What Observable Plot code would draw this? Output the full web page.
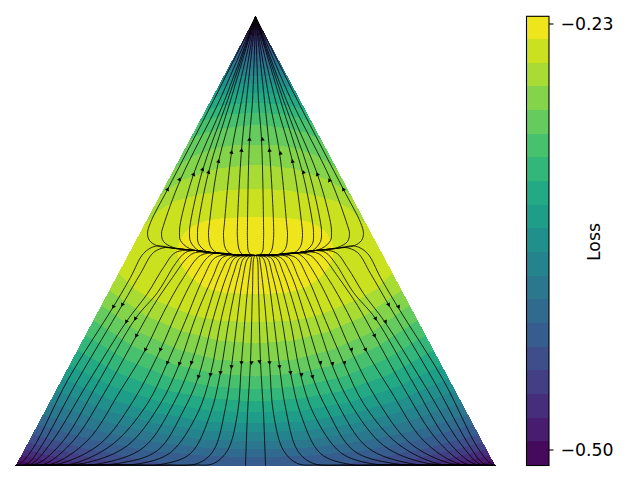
<!DOCTYPE html>
<html>
<head>
<meta charset="utf-8">
<script src="https://cdn.jsdelivr.net/npm/d3@7"></script>
<script src="https://cdn.jsdelivr.net/npm/@observablehq/plot@0.6"></script>
<style>html,body{margin:0;padding:0;background:#fff}svg{display:block}</style>
</head>
<body>
<div id="chart"></div>
<script>
// Loss bands: band k spans lossEdges[k] .. lossEdges[k+1]
const lossStart = -0.51, lossStep = 0.015, bandCount = 19;
const lossDomain = [-0.51, -0.225];
const colorbarRows = [465.5,441,417.7,393.7,370,347,323,299,275.7,251.7,228,205,181,157,134,110,86,62.7,39,16.3];
const colorbarTicks = [{row:23.5,label:"\u22120.23"},{row:449.5,label:"\u22120.50"}];

// Level curves of the loss, left half, from the centre line out to the simplex edge: [offset,row]
const upperContours = {
  1:[[0,24],[-4.5,24.5]], 2:[[0,29],[-7,30]], 3:[[0,34],[-10,35]], 4:[[0,40],[-13,41]],
  5:[[0,46],[-17,47]], 6:[[0,53],[-21,55]], 7:[[0,60],[-25,62]], 8:[[0,67],[-29,70]],
  9:[[0,75],[-17,76],[-26,77],[-34,79]],
  10:[[0,83],[-19,84],[-29,85.5],[-38.5,88]],
  11:[[0,92],[-22,93.5],[-33,95],[-44,98]],
  12:[[0,102],[-25,104],[-38,106],[-50,110]],
  13:[[0,112],[-28,114],[-43,117],[-57,122]],
  14:[[0,124],[-33,128],[-50,132],[-66,139]],
  15:[[0,144],[-20,144.5],[-40,147.5],[-61,155],[-73,162],[-81,168]],
  16:[[0,164],[-38,168],[-72,179],[-88,189],[-96,196]],
  17:[[0,188],[-28,189.5],[-56,194],[-82,201],[-98,211],[-113,227]]
};
const lowerContours = {
  1:[[0,510],[-150,490],[-215,465],[-225,463],[-237,460]],
  2:[[0,500],[-120,488],[-190,465],[-205,461],[-220,458],[-235,455]],
  3:[[0,495],[-100,485],[-160,465],[-185,460],[-210,454],[-231,449]],
  4:[[0,485],[-70,478],[-125,465],[-160,458],[-195,450],[-228,442]],
  5:[[0,473],[-40,470],[-80,465],[-120,458],[-170,448],[-223,434]],
  6:[[0,457],[-54,455],[-109,450],[-164,439],[-218,424]],
  7:[[0,449],[-53,447],[-106,441],[-160,430],[-213,414]],
  8:[[0,441],[-52,439],[-103,432],[-155,420],[-206,402]],
  9:[[0,432],[-50,430],[-100,423],[-150,410],[-200,390]],
  10:[[0,423],[-48,421],[-97,413],[-145,399],[-193,378]],
  11:[[0,412],[-47,410],[-93,402],[-140,387],[-186,365]],
  12:[[0,401],[-45,398],[-89,390],[-134,374],[-178,350]],
  13:[[0,389],[-43,386],[-85,377],[-128,360],[-170,335]],
  14:[[0,376],[-41,373],[-81,364],[-122,346],[-162,320]],
  15:[[0,362],[-39,359],[-77,349],[-116,332],[-154,305]],
  16:[[0,343],[-37,340],[-73,331],[-110,315],[-146,290]],
  17:[[0,322],[-38,320],[-62,315],[-105,298],[-122,288],[-137,272]]
};
const peakContour = [[0,217],[-20,217],[-48,220],[-65,227],[-75,238],[-78,250],[-77,258],[-68,273],[-52,286],[-32,292],[0,293]];

// Flow lines, left half
const sharedArc = [[-100,245.7],[-80,248],[-60,250],[-40,252.5],[-20,254.3],[0,255]];
const upperFlow = [
  [[-42,100],[-88,189],[-105,222],[-108,233],[-106,240],[-99,245]],
  [[-36,100],[-75,179],[-92,225],[-94,233],[-92,241],[-82,247]],
  [[-31,100],[-62,174],[-75,222],[-76,232],[-75,240],[-66,248]],
  [[-28,100],[-53,170],[-65,222],[-66,232],[-65,241],[-57,250]],
  [[-25,100],[-47,172],[-57,222],[-58,232],[-57,243],[-49,251]],
  [[-20,100],[-37,161],[-46,222],[-47,235],[-45,246],[-39,252]],
  [[-14,100],[-24,152],[-31,222],[-32,235],[-30,248],[-24,253.5]],
  [[-9,100],[-14,150],[-18,222],[-18,238],[-16,250],[-12,254.5]],
  [[-3,100],[-6,139],[-8,222],[-8,240],[-7,251],[-4,254.8]]
];
const lowerFlow = [
  [[-235,463],[-222,447],[-188,380],[-142,306],[-125,277],[-112,253],[-100,245.7]],
  [[-228,463],[-215,447],[-178,380],[-133,304],[-115,273],[-102,252],[-90,247]],
  [[-225,464],[-205,443],[-168,383],[-129,321],[-108,293],[-92,267],[-80,252]],
  [[-218,463],[-192,440],[-158,383],[-120,318],[-98,292],[-80,263],[-70,252]],
  [[-212,464],[-182,440],[-148,387],[-119,335],[-102,305],[-83,277],[-68,257],[-60,252]],
  [[-205,464],[-168,440],[-135,390],[-110,349],[-92,312],[-72,277],[-55,255]],
  [[-222,464.6],[-195,463],[-155,443],[-122,400],[-95,349],[-78,310],[-62,278],[-48,257]],
  [[-215,464.6],[-182,463],[-142,443],[-108,403],[-88,362],[-70,320],[-52,277],[-40,257]],
  [[-205,464.5],[-168,462],[-128,445],[-95,403],[-76,363],[-60,317],[-43,277],[-33,257]],
  [[-200,464.6],[-155,463],[-112,447],[-82,403],[-64,362],[-50,317],[-35,273],[-25,257]],
  [[-190,464.6],[-138,463],[-98,450],[-72,410],[-57,376],[-42,317],[-28,273],[-20,257]],
  [[-170,464.6],[-140,464.3],[-115,463],[-85,452],[-58,413],[-45,374],[-34,317],[-22,273],[-15,257]],
  [[-160,464.6],[-120,464.5],[-95,464],[-65,453],[-45,413],[-35,372],[-26,317],[-17,275],[-11,257]],
  [[-150,464.6],[-90,464.5],[-58,463],[-42,450],[-30,407],[-24,366],[-18,317],[-13,280],[-7,257]],
  [[-150,464.6],[-65,464.5],[-42,463],[-28,450],[-18,413],[-14,362],[-8,290],[-4,257]]
];
const centreFlow = [[-10,465],[-8,413],[-5,361],[-3,290],[-1.5,257],[0,255]];

// Arrow heads
const upperArrows = [[-88,189],[-76,179],[-62,174],[-53,169],[-47,172],[-37,161],[-24,152],[-14,150],[-6,139],[88,189],[74,180],[62,174],[48,172],[37,161],[25,153],[14,150],[7,139]];
const lowerArrows = [[-142,306],[-133,304],[-129,321],[-120,318],[-119,335],[-110,349],[-95,349],[-88,362],[-76,363],[-64,362],[-57,376],[-45,374],[-35,372],[-24,366],[-14,362],[-4,362],[4,361],[14,362],[24,366],[35,372],[46,374],[57,376],[65,362],[77,363],[89,362],[96,349],[110,349],[119,335],[120,318],[130,321],[133,304],[143,306]];

const apexRow = 16, baseRow = 465;
const bandLoss = k => lossStart + lossStep * (k + 0.5);
const mirror = pts => pts.map(([x, y]) => [-x, y]);
const extend = h => { const e = h[h.length - 1]; return [...h, [e[0] - 10, e[1]]]; };

function bandPolygon(k) {
  const top = extend(upperContours[k]), bot = extend(lowerContours[k]);
  const pts = [...top.slice().reverse(), ...mirror(top.slice(1)), ...mirror(bot).reverse(), ...bot.slice(1)];
  return pts.map(([x, y]) => ({x, y, loss: bandLoss(k)}));
}
const peakPolygon = [...peakContour, ...mirror(peakContour).slice(1, -1).reverse()]
  .map(([x, y]) => ({x, y, loss: bandLoss(18)}));
const basePolygon = [[0, apexRow], [-240, baseRow], [240, baseRow]]
  .map(([x, y]) => ({x, y, loss: bandLoss(0)}));
const outside = [[-255,0],[0,0],[0,apexRow],[-240,baseRow+0.5],[240,baseRow+0.5],[0,apexRow],[0,0],[255,0],[255,480],[-255,480]]
  .map(([x, y]) => ({x, y}));

const flowRecords = [];
let flowId = 0;
function addFlow(pts) {
  const last = pts[pts.length - 1];
  const tail = sharedArc.filter(p => p[0] > last[0] + 6);
  const run = [...pts, ...tail];
  for (const variant of [run, mirror(run)]) {
    flowId++;
    variant.forEach(([x, y]) => flowRecords.push({x, y, id: flowId}));
  }
}
upperFlow.forEach(l => addFlow([[0, apexRow], ...l]));
lowerFlow.forEach(l => addFlow([[-240, baseRow], ...l]));
addFlow(centreFlow);

const arrowData = [
  ...upperArrows.map(([x, y]) => ({x, y, a: Math.atan2(-x, y - apexRow) * 180 / Math.PI})),
  ...lowerArrows.map(([x, y]) => ({x, y, a: 180 - x * 0.2}))
];

const colorbar = d3.range(bandCount).map(k => ({
  y1: colorbarRows[k], y2: colorbarRows[k + 1], loss: bandLoss(k)
}));
const barLeft = 271.5, barRight = 294;
const font = {fontFamily: "DejaVu Sans", fontSize: 17.3, fill: "black"};
const bandStyle = {x: "x", y: "y", fill: "loss", stroke: "none", curve: "linear-closed", shapeRendering: "crispEdges"};

const chart = Plot.plot({
  width: 640, height: 480,
  x: {domain: [-240, 240], range: [15, 495], axis: null},
  y: {domain: [16, 465], range: [16, 465], axis: null},
  color: {type: "linear", scheme: "viridis", domain: lossDomain},
  style: {background: "white"},
  marks: [
    Plot.line(basePolygon, bandStyle),
    ...d3.range(1, 18).map(k => Plot.line(bandPolygon(k), bandStyle)),
    Plot.line(peakPolygon, {...bandStyle, curve: "catmull-rom-closed"}),
    Plot.line(outside, {x: "x", y: "y", fill: "white", stroke: "none", curve: "linear-closed", shapeRendering: "crispEdges"}),
    Plot.line(flowRecords, {x: "x", y: "y", z: "id", stroke: "black", strokeWidth: 0.8, curve: "catmull-rom"}),
    Plot.dot(arrowData, {x: "x", y: "y", symbol: "triangle", r: 1.6, fill: "black", stroke: "none", rotate: "a"}),
    Plot.rect([{y1: 465.6, y2: 480}], {x1: -255, x2: 255, y1: "y1", y2: "y2", fill: "white", shapeRendering: "crispEdges"}),
    Plot.rect(colorbar, {x1: barLeft, x2: barRight, y1: "y1", y2: "y2", fill: "loss", shapeRendering: "crispEdges"}),
    Plot.rect([{y1: 16.3, y2: 465.5}], {x1: barLeft, x2: barRight, y1: "y1", y2: "y2", fill: "none", stroke: "black", strokeWidth: 1.1}),
    Plot.ruleY(colorbarTicks, {y: "row", x1: barRight, x2: barRight + 4.5, stroke: "black", strokeWidth: 1.1}),
    Plot.text(colorbarTicks, {y: "row", x: barRight + 11, dy: 0.5, text: "label", textAnchor: "start", ...font}),
    Plot.text(["Loss"], {x: 339, y: 241.5, text: d => d, rotate: -90, ...font})
  ]
});
document.getElementById("chart").append(chart);
</script>
</body>
</html>
